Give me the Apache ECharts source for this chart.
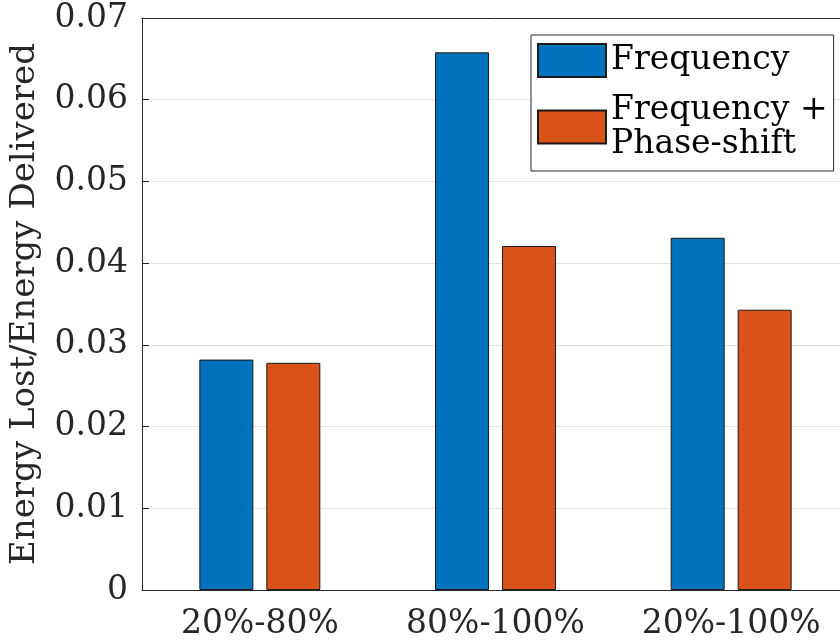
<!DOCTYPE html>
<html>
<head>
<meta charset="utf-8">
<script src="https://cdn.jsdelivr.net/npm/echarts@6/dist/echarts.min.js"></script>
<style>html,body{margin:0;padding:0;background:#fff;overflow:hidden;width:840px;height:641px}#c{width:850px;height:641px}</style>
</head>
<body>
<div id="c"></div>
<script>
const categories = ['20%-80%', '80%-100%', '20%-100%'];
const seriesNames = ['Frequency', 'Frequency +\nPhase-shift'];
const frequency = [0.0282, 0.0658, 0.0431];
const freqPhase = [0.0278, 0.0421, 0.0343];
const yTicks = [0, 0.01, 0.02, 0.03, 0.04, 0.05, 0.06, 0.07];

const FONT = 'DejaVu Serif';
const axisCol = '#262626';
const chart = echarts.init(document.getElementById('c'));
chart.setOption({
  animation: false,
  textStyle: { fontFamily: FONT },
  grid: { left: 142, top: 18, bottom: 51, right: 1, containLabel: false },
  legend: {
    data: seriesNames,
    orient: 'vertical',
    left: 531, top: 35,
    padding: [8, 6, 10, 6],
    icon: 'rect',
    itemWidth: 68, itemHeight: 33, itemGap: 15,
    backgroundColor: '#fff',
    borderColor: axisCol, borderWidth: 1,
    textStyle: { fontFamily: FONT, fontSize: 33, lineHeight: 34, color: '#000' }
  },
  xAxis: [{
    type: 'category', data: categories, position: 'bottom',
    axisLine: { lineStyle: { color: axisCol, width: 1 } },
    axisTick: { inside: true, alignWithLabel: true, length: 7, lineStyle: { color: axisCol } },
    axisLabel: { fontFamily: FONT, fontSize: 33, color: axisCol, margin: 18 },
    splitLine: { show: false }
  }, {
    type: 'category', data: categories, position: 'top',
    axisLine: { lineStyle: { color: axisCol, width: 1 } },
    axisTick: { inside: true, alignWithLabel: true, length: 7, lineStyle: { color: axisCol } },
    axisLabel: { show: false }
  }],
  yAxis: {
    type: 'value', min: yTicks[0], max: yTicks[yTicks.length - 1], interval: 0.01,
    name: 'Energy Lost/Energy Delivered', nameLocation: 'middle', nameGap: 100,
    nameTextStyle: { fontFamily: FONT, fontSize: 34, color: axisCol },
    axisLine: { show: true, lineStyle: { color: axisCol, width: 1 } },
    axisTick: { show: true, inside: true, length: 7, lineStyle: { color: axisCol } },
    axisLabel: { fontFamily: FONT, fontSize: 33, color: axisCol, margin: 14,
      formatter: v => v === 0 ? '0' : v.toFixed(2) },
    splitLine: { show: true, lineStyle: { color: '#e3e3e3', width: 1 } }
  },
  series: [{
    name: seriesNames[0], type: 'bar', data: frequency,
    barWidth: 54, barGap: '24%',
    itemStyle: { color: '#0072BD', borderColor: '#1a1a1a', borderWidth: 1 }
  }, {
    name: seriesNames[1], type: 'bar', data: freqPhase,
    barWidth: 54, barGap: '24%',
    itemStyle: { color: '#D95319', borderColor: '#1a1a1a', borderWidth: 1 }
  }]
});
</script>
</body>
</html>
